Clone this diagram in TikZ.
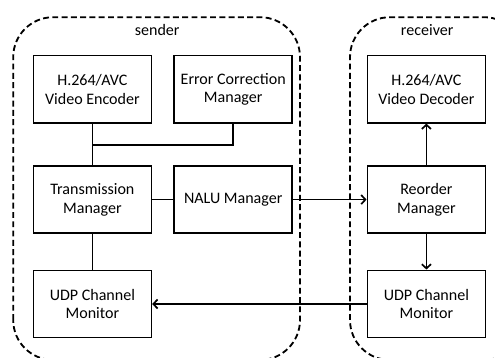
\documentclass[tikz,border=0pt]{standalone}
\usepackage{fontspec}
\setmainfont{Carlito}
\usetikzlibrary{arrows.meta}

\begin{document}
\begin{tikzpicture}[
    font=\fontsize{11.4}{13.3}\selectfont,
    block/.style = {shape=rectangle, draw, line width=1.2pt, minimum width=2.95cm, minimum height=1.68cm, align=center, inner sep=2pt},
    side/.style = {draw, dash pattern=on 4.2pt off 2.4pt, line width=1.3pt, rounded corners=1cm},
    link/.style = {line width=1.2pt},
    flow/.style = {line width=1.2pt, -{Straight Barb[length=3pt,width=6.5pt]}}
    ]
    \useasboundingbox (0,0) rectangle (12.375,8.95);
    \clip (0,0) rectangle (12.375,8.95);

    % Dashed regions
    \draw[side] (0.33,-0.05) rectangle (7.5,8.52);
    \draw[side] (8.75,-0.05) rectangle (13.1,8.52);
    \node (sender lbl)   at (3.93,  8.2) {sender};
    \node (receiver lbl) at (10.68, 8.2) {receiver};

    \begin{scope}
        \node[block] (snd enc)  at (2.31, 6.72) {H.264/AVC\\Video Encoder};
        \node[block] (snd ecm)  at (5.83, 6.72) {Error Correction\\Manager};
        \node[block] (snd tm)   at (2.31, 3.96) {Transmission\\Manager};
        \node[block] (snd nalu) at (5.83, 3.96) {NALU Manager};
        \node[block] (snd udp)  at (2.31, 1.35) {UDP Channel\\Monitor};

        \coordinate (snd join) at (2.31, 5.33);

        % Sender links
        \draw[link] (snd enc)  -- (snd tm);
        \draw[link] (snd ecm.south) |- (snd join);
        \draw[link] (snd tm)   -- (snd nalu);
        \draw[link] (snd tm)   -- (snd udp);
    \end{scope}

    \begin{scope}
        \node[block] (rcv dec) at (10.66, 6.72) {H.264/AVC\\Video Decoder};
        \node[block] (rcv reo) at (10.66, 3.96) {Reorder\\Manager};
        \node[block] (rcv udp) at (10.66, 1.35) {UDP Channel\\Monitor};

        % Receiver flow
        \draw[flow] (rcv reo) -- (rcv dec);
        \draw[flow] (rcv reo) -- (rcv udp);
    \end{scope}

    % Between sender and receiver
    \draw[flow] (snd nalu) -- (rcv reo);
    \draw[flow] (rcv udp)  -- (snd udp);

\end{tikzpicture}
\end{document}
